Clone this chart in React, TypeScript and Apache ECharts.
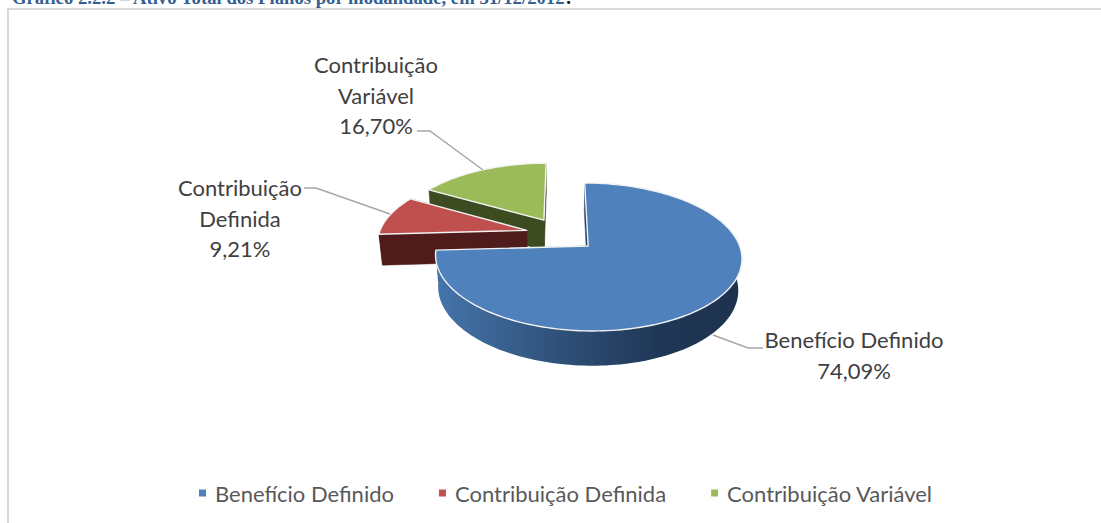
import React, { useEffect, useRef } from "react";
import * as echarts from "echarts";

const categories = ["Benefício Definido", "Contribuição Definida", "Contribuição Variável"];
const shares = [74.09, 9.21, 16.7];
const labelLines = [["Benefício Definido"], ["Contribuição", "Definida"], ["Contribuição", "Variável"]];
const titleText = "Gráfico 2.2.2 – Ativo Total dos Planos por modalidade, em 31/12/2012";

const topColors = ["#4f81bd", "#c0504d", "#9bbb59"];
const wallColors = ["#2c4a70", "#4f1c1b", "#3c4b20"];

// projection of the tilted, exploded pie
const CX = 561.4, CY = 234.2, A = 147.8, B = 68.9, K = 0.145, EXPLODE = 0.243, DEPTH = 31.5, M = 0.02;
const total = shares.reduce((s, v) => s + v, 0);
const rad = (d: number) => (d * Math.PI) / 180;

function project(U: number, V: number, h: number): number[] {
  const w = 1 + K * V + M * h;
  return [CX + (A * U) / w, CY + (-B * V + DEPTH * h) / w];
}

function rimPoint(mid: number, deg: number, r: number, h: number) {
  const U = EXPLODE * Math.sin(rad(mid)) + r * Math.sin(rad(deg));
  const V = EXPLODE * Math.cos(rad(mid)) + r * Math.cos(rad(deg));
  return project(U, V, h);
}

function arcPoints(mid: number, a0: number, a1: number, h: number) {
  const pts: number[][] = [];
  const n = Math.max(2, Math.ceil(Math.abs(a1 - a0) / 1.5));
  for (let i = 0; i <= n; i++) pts.push(rimPoint(mid, a0 + ((a1 - a0) * i) / n, 1, h));
  return pts;
}

const labelPos = [
  { x: 854, y: 355 },
  { x: 240, y: 218 },
  { x: 376, y: 95 },
];
const leaders = [
  [[713, 335], [748, 348], [763, 348]],
  [[304, 188], [316, 188], [390, 214]],
  [[417, 131], [430, 131], [483, 170]],
];
const FONT = "Lato";

function makeSeries(idx: number) {
  const before = shares.slice(0, idx).reduce((s, v) => s + v, 0);
  return {
    type: "custom",
    name: categories[idx],
    coordinateSystem: "none",
    silent: true,
    z: 2 + (3 - idx),
    itemStyle: { color: topColors[idx] },
    data: [[shares[idx]]],
    renderItem: (_: any, api: any) => {
      const value = api.value(0);
      const a0 = (before / total) * 360;
      const a1 = a0 + (value / total) * 360;
      const mid = (a0 + a1) / 2;
      const apexT = rimPoint(mid, 0, 0, 0);
      const apexB = rimPoint(mid, 0, 0, 1);
      const wall = wallColors[idx];
      const children: any[] = [];
      const radial = (deg: number) => ({
        type: "polygon",
        shape: { points: [apexT, rimPoint(mid, deg, 1, 0), rimPoint(mid, deg, 1, 1), apexB] },
        style: { fill: wall, stroke: wall, lineWidth: 0.5 },
      });
      children.push(radial(a0), radial(a1));
      const f0 = Math.max(a0, 75), f1 = Math.min(a1, 285);
      if (f1 > f0) {
        children.push({
          type: "polygon",
          shape: { points: [...arcPoints(mid, f0, f1, 0), ...arcPoints(mid, f1, f0, 1)] },
          style: {
            fill:
              idx === 0
                ? new echarts.graphic.LinearGradient(1, 0, 0, 0, [
                    { offset: 0, color: "#1d324e" },
                    { offset: 0.25, color: "#1f3655" },
                    { offset: 0.6, color: "#2f5179" },
                    { offset: 1, color: "#4675ab" },
                  ])
                : wall,
          },
        });
      }
      children.push({
        type: "polygon",
        shape: { points: [apexT, ...arcPoints(mid, a0, a1, 0)] },
        style: { fill: topColors[idx], stroke: "#f2f2f2", lineWidth: 1.4, lineJoin: "round" },
      });
      children.push({
        type: "polyline",
        shape: { points: leaders[idx] },
        style: { fill: "none", stroke: "#a6a6a6", lineWidth: 1.4 },
      });
      const pct = value.toFixed(2).replace(".", ",") + "%";
      children.push({
        type: "text",
        x: labelPos[idx].x,
        y: labelPos[idx].y,
        style: {
          text: [...labelLines[idx], pct].join("\n"),
          font: `22px ${FONT}`,
          fill: "#404040",
          align: "center",
          verticalAlign: "middle",
          lineHeight: 30.5,
        },
      });
      return { type: "group", children };
    },
  };
}

export default function App() {
  const ref = useRef<HTMLDivElement>(null);
  useEffect(() => {
    const chart = echarts.init(ref.current!, null, { renderer: "svg" });
    chart.setOption({
      animation: false,
      backgroundColor: "#ffffff",
      legend: {
        data: categories,
        left: 194,
        top: 477,
        icon: "rect",
        itemWidth: 7,
        itemHeight: 7,
        itemGap: 45,
        textStyle: { fontFamily: FONT, fontSize: 22, color: "#595959", padding: [0, 0, 0, 4] },
      },
      graphic: [
        {
          type: "text",
          x: 12,
          y: -12,
          z: 1,
          style: {
            text: "{t|" + titleText + "}{p|.}",
            rich: {
              t: { font: "bold 18.7px 'Liberation Serif'", fill: "#365f91" },
              p: { font: "bold 18.7px 'Liberation Serif'", fill: "#000000" },
            },
          },
        },
        {
          type: "polyline",
          shape: { points: [[8, 523], [8, 9], [1101, 9]] },
          style: { fill: "none", stroke: "#d9d9d9", lineWidth: 2 },
        },
      ],
      series: [0, 1, 2].map(makeSeries),
    });
    return () => chart.dispose();
  }, []);
  return <div ref={ref} style={{ position: "absolute", left: 0, top: 0, width: 1101, height: 523 }} />;
}
